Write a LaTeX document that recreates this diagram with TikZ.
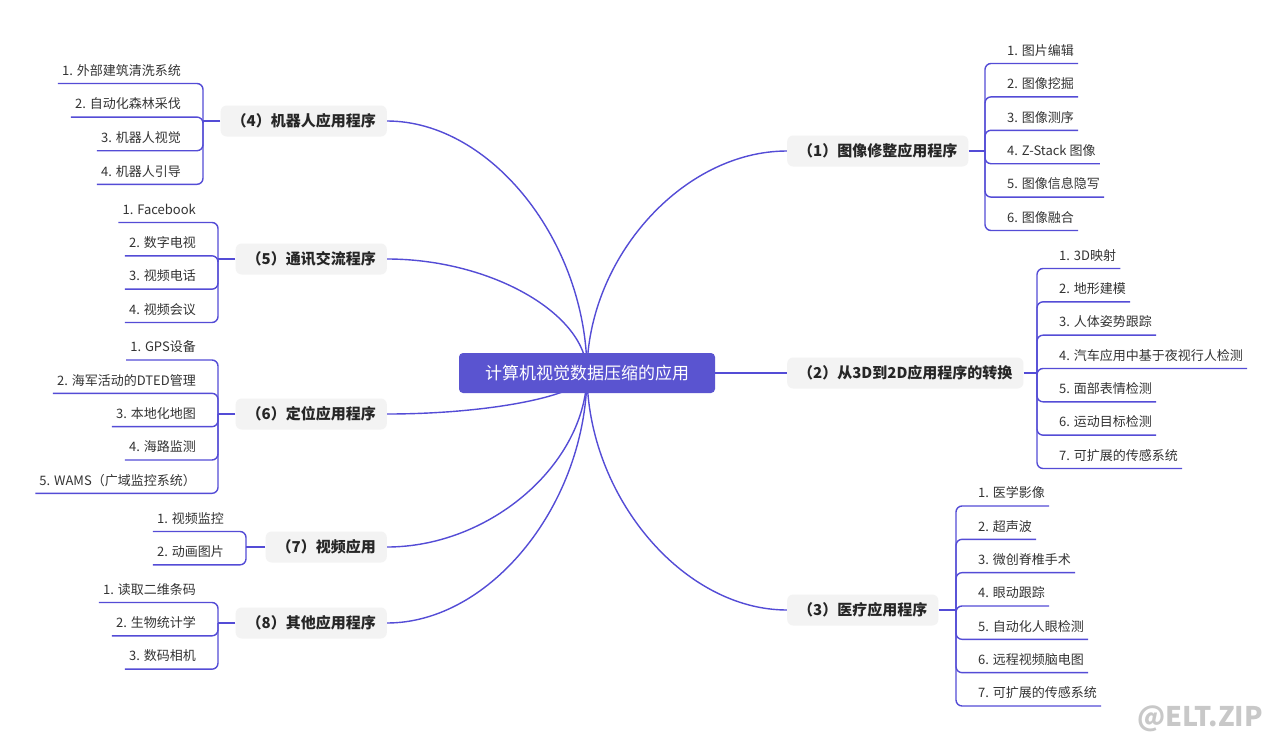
\documentclass[tikz,border=0pt]{standalone}
\usepackage{fontspec}
\setmainfont{Noto Sans CJK SC}
\usetikzlibrary{backgrounds}
\definecolor{linkblue}{RGB}{84,76,214}
\definecolor{rootblue}{RGB}{90,84,208}
\definecolor{boxgray}{RGB}{243,243,243}
\definecolor{markgray}{RGB}{200,200,200}
\tikzset{
  link/.style={draw=linkblue, line width=1.4pt},
  root/.style={fill=rootblue, text=white, rounded corners=4pt, minimum width=256pt,
    minimum height=40pt, font=\fontsize{17}{20}\selectfont},
  branch/.style={fill=boxgray, rounded corners=6pt, minimum height=31pt, inner xsep=11pt,
    text=black!85, font=\fontsize{15}{18}\selectfont\bfseries},
  leaf/.style={inner xsep=4pt, inner ysep=5pt, text height=10pt, text depth=3pt,
    text=black!80, font=\fontsize{13}{15}\selectfont},
  watermark/.style={text=markgray, font=\fontsize{27}{30}\selectfont\bfseries}
}
\begin{document}
\begin{tikzpicture}[x=1pt, y=-1pt]
    \useasboundingbox (0,0) rectangle (1280,747);
    \node[root] (root) at (587,373) {计算机视觉数据压缩的应用};
    \node[branch, anchor=west] (b1) at (787,151) {（1）图像修整应用程序};
    \node[branch, anchor=west] (b2) at (787,373) {（2）从3D到2D应用程序的转换};
    \node[branch, anchor=west] (b3) at (787,610) {（3）医疗应用程序};
    \node[branch, anchor=east] (b4) at (387,121) {（4）机器人应用程序};
    \node[branch, anchor=east] (b5) at (387,259) {（5）通讯交流程序};
    \node[branch, anchor=east] (b6) at (387,414) {（6）定位应用程序};
    \node[branch, anchor=east] (b7) at (387,547) {（7）视频应用};
    \node[branch, anchor=east] (b8) at (387,623) {（8）其他应用程序};
    \coordinate (j1) at (985,151);
    \coordinate (j2) at (1037,373);
    \coordinate (j3) at (956,610);
    \coordinate (j4) at (203,121);
    \coordinate (j5) at (218,259);
    \coordinate (j6) at (218,414);
    \coordinate (j7) at (246,547);
    \coordinate (j8) at (218,623);
    \foreach \t [count=\i] in {1. 图片编辑, 2. 图像挖掘, 3. 图像测序, 4. Z-Stack 图像,
        5. 图像信息隐写, 6. 图像融合}
        \node[leaf, anchor=south west] (a\i) at (1003,63.5+33.4*\i-33.4) {\t};
    \foreach \t [count=\i] in {1. 3D映射, 2. 地形建模, 3. 人体姿势跟踪,
        4. 汽车应用中基于夜视行人检测, 5. 面部表情检测, 6. 运动目标检测, 7. 可扩展的传感系统}
        \node[leaf, anchor=south west] (c\i) at (1055,268.5+33.33*\i-33.33) {\t};
    \foreach \t [count=\i] in {1. 医学影像, 2. 超声波, 3. 微创脊椎手术, 4. 眼动跟踪,
        5. 自动化人眼检测, 6. 远程视频脑电图, 7. 可扩展的传感系统}
        \node[leaf, anchor=south west] (d\i) at (974,506+33.33*\i-33.33) {\t};
    \foreach \t [count=\i] in {1. 外部建筑清洗系统, 2. 自动化森林采伐, 3. 机器人视觉, 4. 机器人引导}
        \node[leaf, anchor=south east] (e\i) at (185,83.5+33.6*\i-33.6) {\t};
    \foreach \t [count=\i] in {1. Facebook, 2. 数字电视, 3. 视频电话, 4. 视频会议}
        \node[leaf, anchor=south east] (f\i) at (200,222.5+33.33*\i-33.33) {\t};
    \foreach \t [count=\i] in {1. GPS设备, 2. 海军活动的DTED管理, 3. 本地化地图, 4. 海路监测,
        5. WAMS（广域监控系统）}
        \node[leaf, anchor=south east] (g\i) at (200,360+33.33*\i-33.33) {\t};
    \foreach \t [count=\i] in {1. 视频监控, 2. 动画图片}
        \node[leaf, anchor=south east] (h\i) at (228,531.5+33.33*\i-33.33) {\t};
    \foreach \t [count=\i] in {1. 读取二维条码, 2. 生物统计学, 3. 数码相机}
        \node[leaf, anchor=south east] (k\i) at (200,602.5+33.33*\i-33.33) {\t};
    \node[watermark] (wm) at (1200,719) {@ELT.ZIP};
    \begin{pgfonlayer}{background}
        \fill[white] (0,0) rectangle (1280,747);
        \draw[link] (root.center) .. controls +(0,-115) and +(-104,0) .. (b1.west);
        \draw[link] (root.center) -- (b2.west);
        \draw[link] (root.center) .. controls +(0,123) and +(-104,0) .. (b3.west);
        \foreach \b/\d in {b4/-131, b5/-59, b6/22, b7/90, b8/130}
            \draw[link] (root.center) .. controls +(0,\d) and +(104,0) .. (\b.east);
        \foreach \b/\j in {b1/j1, b2/j2, b3/j3}
            \draw[link] (\b.east) -- (\j);
        \foreach \b/\j in {b4/j4, b5/j5, b6/j6, b7/j7, b8/j8}
            \draw[link] (\b.west) -- (\j);
        \foreach \i in {1,...,6}
            \draw[link, rounded corners=6pt] (j1) |- (a\i.south east);
        \foreach \i in {1,...,7} {
            \draw[link, rounded corners=6pt] (j2) |- (c\i.south east);
            \draw[link, rounded corners=6pt] (j3) |- (d\i.south east);
        }
        \foreach \i in {1,...,4} {
            \draw[link, rounded corners=6pt] (j4) |- (e\i.south west);
            \draw[link, rounded corners=6pt] (j5) |- (f\i.south west);
        }
        \foreach \i in {1,...,5}
            \draw[link, rounded corners=6pt] (j6) |- (g\i.south west);
        \foreach \i in {1,2}
            \draw[link, rounded corners=6pt] (j7) |- (h\i.south west);
        \foreach \i in {1,2,3}
            \draw[link, rounded corners=6pt] (j8) |- (k\i.south west);
    \end{pgfonlayer}
\end{tikzpicture}
\end{document}
